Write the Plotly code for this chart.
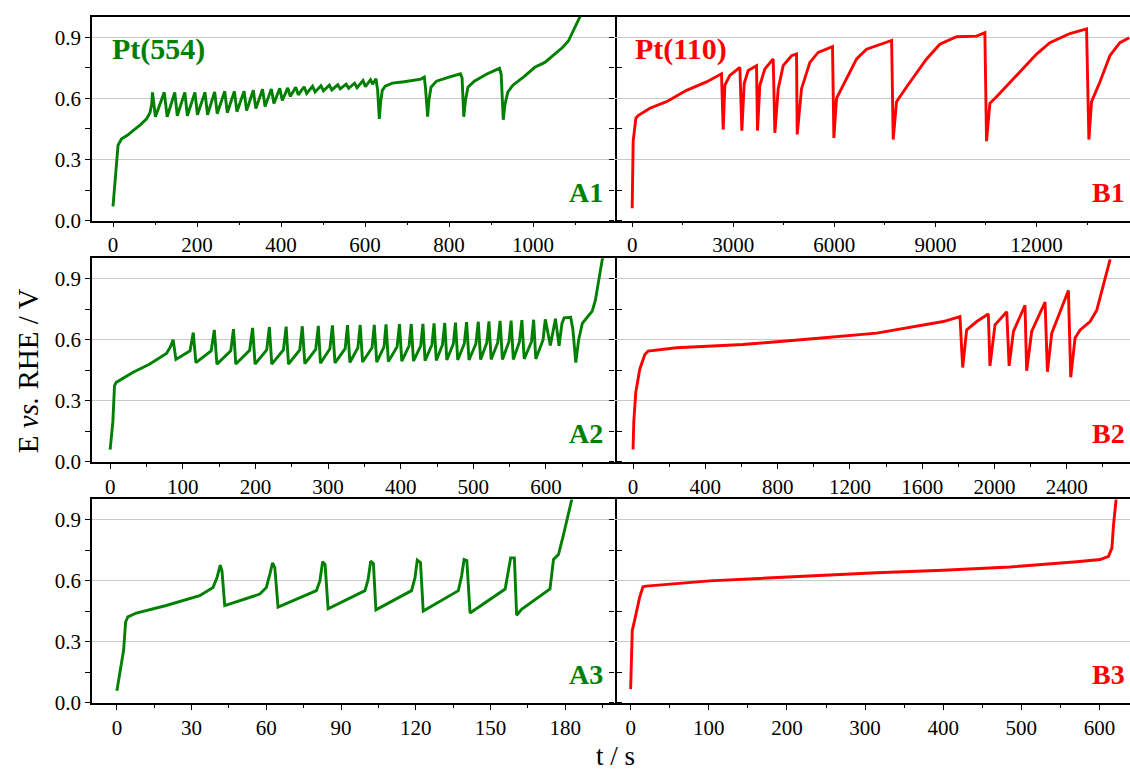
import plotly.graph_objects as go

# ---------------- data ----------------
a1_t = [0, 3, 8, 12, 20, 35, 50, 65, 80, 88, 92, 94,
        101, 122, 129, 147, 153, 171, 177, 195, 201, 219, 225, 242, 248, 266, 272, 289, 295,
        312, 318, 334, 340, 356, 362, 377, 383, 397, 403, 416, 422, 435, 441, 455, 461,
        475, 481, 495, 501, 515, 521, 535, 541, 555, 561, 575, 581, 595, 601, 613, 618, 626,
        630, 634, 637, 641, 648, 665, 693, 733, 741, 744, 749, 752, 757, 770, 800, 827, 831,
        835, 839, 845, 860, 890, 920, 924, 929, 933, 940, 952, 980, 1004, 1028, 1052, 1070,
        1084, 1100, 1112]
a1_E = [0.07, 0.15, 0.30, 0.37, 0.40, 0.42, 0.445, 0.47, 0.50, 0.53, 0.57, 0.63,
        0.51, 0.63, 0.51, 0.63, 0.515, 0.63, 0.515, 0.63, 0.52, 0.63, 0.52, 0.632, 0.525, 0.635, 0.53, 0.635, 0.535,
        0.636, 0.54, 0.64, 0.55, 0.645, 0.56, 0.647, 0.575, 0.65, 0.59, 0.652, 0.61, 0.655, 0.618, 0.657, 0.625,
        0.66, 0.632, 0.662, 0.637, 0.665, 0.642, 0.667, 0.647, 0.67, 0.65, 0.675, 0.653, 0.688, 0.658, 0.692, 0.67, 0.697,
        0.64, 0.50, 0.58, 0.64, 0.66, 0.675, 0.682, 0.695, 0.705, 0.65, 0.51, 0.59, 0.655, 0.685, 0.705, 0.721, 0.70,
        0.51, 0.59, 0.655, 0.685, 0.72, 0.748, 0.72, 0.495, 0.57, 0.632, 0.665, 0.71, 0.753, 0.777, 0.818, 0.85,
        0.882, 0.955, 1.003]

b1_t = [0, 30, 109, 178, 524, 1019, 1613, 2206, 2651, 2701, 2751, 2899, 3196, 3255, 3324, 3443,
        3690, 3720, 3789, 3938, 4185, 4235, 4334, 4482, 4729, 4878, 4898, 5026, 5274, 5521, 5946,
        5986, 6065, 6263, 6659, 6956, 7648, 7700, 7747, 7846, 8143, 8737, 9132, 9627, 10221, 10468,
        10517, 10616, 10814, 11408, 12002, 12397, 12991, 13486, 13555, 13634, 13882, 14178, 14475, 14752]
b1_E = [0.06, 0.39, 0.503, 0.516, 0.552, 0.584, 0.64, 0.681, 0.721, 0.447, 0.665, 0.713, 0.753, 0.442, 0.673, 0.737,
        0.761, 0.442, 0.665, 0.745, 0.794, 0.431, 0.648, 0.761, 0.81, 0.818, 0.423, 0.648, 0.777, 0.826, 0.855,
        0.406, 0.60, 0.665, 0.794, 0.842, 0.882, 0.885, 0.398, 0.584, 0.656, 0.794, 0.866, 0.903, 0.906, 0.923,
        0.39, 0.576, 0.608, 0.713, 0.818, 0.874, 0.919, 0.942, 0.398, 0.584, 0.681, 0.81, 0.874, 0.898]

a2_t = [0, 3.7, 6, 8.3, 31, 54, 77.5, 83, 86.7,
        90.5, 110, 114.4, 118, 139, 143.4, 147, 166, 169.8, 173, 192, 196.1, 199.5, 215.5, 219.2,
        222.5, 238.5, 242.3, 245.5, 261, 264.5, 268, 283, 286.6, 289.5, 302.5, 306, 309.5, 323.5, 326.8,
        330, 341, 344.2, 347.5, 360.5, 363.6, 367, 377, 379.8, 383, 395, 398.3, 401.5, 411.5, 414.5,
        417.5, 427.5, 430.6, 433.5, 443, 445.9, 449, 457.5, 460.6, 463.5, 472.5, 475.4, 478.5, 487.5, 490.7,
        494, 503.5, 506.8, 510, 518.5, 521.5, 524.5, 533.5, 536.8, 540, 549, 552, 555, 563.5, 566.8,
        570, 580, 583, 586, 596, 599, 606, 611, 613, 618, 622, 625, 634, 637, 641, 645, 650, 659, 663.7,
        668, 677.5, 680]
a2_E = [0.06, 0.197, 0.374, 0.39, 0.439, 0.479, 0.532, 0.565, 0.60,
        0.503, 0.545, 0.635, 0.487, 0.545, 0.648, 0.48, 0.545, 0.652, 0.48, 0.548, 0.658, 0.48, 0.55, 0.662,
        0.48, 0.55, 0.664, 0.48, 0.55, 0.666, 0.482, 0.552, 0.668, 0.484, 0.555, 0.670, 0.486, 0.556, 0.671,
        0.488, 0.56, 0.672, 0.49, 0.56, 0.673, 0.49, 0.565, 0.675, 0.492, 0.565, 0.676, 0.494, 0.57, 0.677,
        0.495, 0.57, 0.678, 0.497, 0.575, 0.68, 0.498, 0.575, 0.682, 0.5, 0.58, 0.684, 0.5, 0.58, 0.686,
        0.5, 0.58, 0.688, 0.502, 0.585, 0.69, 0.503, 0.585, 0.692, 0.503, 0.59, 0.694, 0.503, 0.59, 0.696,
        0.505, 0.59, 0.698, 0.505, 0.60, 0.70, 0.572, 0.66, 0.703, 0.57, 0.68, 0.707, 0.71, 0.65, 0.487, 0.60, 0.68, 0.72, 0.74,
        0.794, 0.995, 1.02]

b2_t = [0, 4, 15, 37, 65, 83, 240, 609, 978, 1348, 1717, 1809, 1824, 1846, 1902, 1966, 1975, 2003,
        2068, 2081, 2105, 2169, 2178, 2206, 2280, 2293, 2317, 2409, 2422, 2446, 2474, 2529, 2566, 2603, 2640]
b2_E = [0.06, 0.197, 0.342, 0.455, 0.527, 0.544, 0.56, 0.576, 0.603, 0.632, 0.689, 0.713, 0.463, 0.648,
        0.689, 0.726, 0.471, 0.673, 0.737, 0.471, 0.64, 0.769, 0.447, 0.64, 0.785, 0.442, 0.632, 0.842,
        0.415, 0.608, 0.648, 0.689, 0.745, 0.866, 0.995]

a3_t = [0, 1.7, 2.7, 3.5, 4.4, 7.8, 19.8, 33.2, 38.6, 40.2, 41.5, 42.2, 43.3,
        57.4, 60, 61.4, 62.5, 63.4, 64.7, 80.1, 81.5, 82.6, 83.6, 84.8,
        99.6, 100.9, 101.9, 103, 104, 118.3, 119.7, 120.6, 121.9, 123,
        137.1, 138.4, 139.4, 140.5, 141.8, 155.9, 157.2, 158.1, 159.6, 160.5, 162.5,
        173.9, 175.3, 177.3, 179.3, 181.3, 182.7]
a3_E = [0.06, 0.18, 0.26, 0.398, 0.423, 0.442, 0.479, 0.527, 0.568, 0.616, 0.677, 0.648, 0.479,
        0.535, 0.568, 0.632, 0.689, 0.665, 0.471, 0.552, 0.60, 0.694, 0.68, 0.463,
        0.552, 0.608, 0.697, 0.685, 0.458, 0.552, 0.616, 0.702, 0.69, 0.452,
        0.552, 0.624, 0.705, 0.70, 0.442, 0.56, 0.648, 0.713, 0.713, 0.431, 0.46,
        0.56, 0.705, 0.729, 0.826, 0.939, 1.003]

b3_t = [0, 2.1, 5.1, 11.5, 15.8, 20, 101, 199.4, 314.7, 400, 485.5, 571, 600.8, 611.5, 615.8, 617.9, 621.3]
b3_E = [0.068, 0.358, 0.406, 0.519, 0.571, 0.574, 0.60, 0.619, 0.640, 0.652, 0.668, 0.694, 0.705, 0.721,
        0.761, 0.874, 1.003]

x_ranges = [[-50, 1195], [-510, 14775], [-25, 695], [-100, 2750], [-10, 200], [-20, 639]]
x_dticks = [200, 3000, 100, 400, 30, 100]
panel_names = ["A1", "B1", "A2", "B2", "A3", "B3"]
crystal_names = ["Pt(554)", "Pt(110)"]

GREEN = "#008000"
RED = "#ff0000"
FONT = "Liberation Serif, Times New Roman, serif"

W, H = 1130, 778
col_px = [(92, 615), (615, 1130)]
row_px = [(17.3, 224), (262.3, 469), (507.3, 714)]

series = [(a1_t, a1_E), (b1_t, b1_E), (a2_t, a2_E), (b2_t, b2_E), (a3_t, a3_E), (b3_t, b3_E)]

fig = go.Figure()
layout = dict(width=W, height=H, margin=dict(l=0, r=0, t=0, b=0),
              paper_bgcolor="white", plot_bgcolor="white", showlegend=False,
              font=dict(family=FONT, size=21, color="black"))
annotations = []

for i, (t, e) in enumerate(series):
    row, col = divmod(i, 2)
    color = GREEN if col == 0 else RED
    suffix = "" if i == 0 else str(i + 1)
    fig.add_trace(go.Scatter(x=t, y=e, mode="lines", xaxis="x" + suffix, yaxis="y" + suffix,
                             line=dict(color=color, width=2.9), hoverinfo="skip"))
    x0, x1 = col_px[col]
    y0, y1 = row_px[row]
    layout["xaxis" + suffix] = dict(
        domain=[x0 / W, x1 / W], anchor="y" + suffix, range=x_ranges[i],
        tickmode="linear", tick0=0, dtick=x_dticks[i], tickformat="d",
        ticks="outside", ticklen=5, tickwidth=1.2, tickcolor="black",
        minor=dict(dtick=x_dticks[i] / 2, tick0=0, ticks="outside", ticklen=3, tickwidth=1, tickcolor="black"),
        showline=True, linecolor="black", linewidth=1.5, mirror=True,
        showgrid=False, zeroline=False, tickfont=dict(family=FONT, size=21, color="black"))
    layout["yaxis" + suffix] = dict(
        domain=[1 - y1 / H, 1 - y0 / H], anchor="x" + suffix, range=[0, 1.0],
        tickmode="linear", tick0=0, dtick=0.3, tickformat=".1f",
        ticks="outside", ticklen=5, tickwidth=1.2, tickcolor="black",
        minor=dict(dtick=0.15, tick0=0, ticks="outside", ticklen=5, tickwidth=1, tickcolor="black"),
        showline=(col == 0), linecolor="black", linewidth=1.5,
        mirror="ticks" if col == 0 else False,
        showticklabels=(col == 0),
        showgrid=True, gridcolor="#c8c8c8", gridwidth=1, zeroline=False,
        tickfont=dict(family=FONT, size=21, color="black"))
    xr = "x" + suffix + " domain"
    yr = "y" + suffix + " domain"
    annotations.append(dict(text="<b>" + panel_names[i] + "</b>", xref=xr, yref=yr,
                            x=0.981 if col == 0 else 0.994, y=0.14, xanchor="right", yanchor="middle",
                            showarrow=False, font=dict(family=FONT, size=28, color=color)))
    if row == 0:
        annotations.append(dict(text="<b>" + crystal_names[col] + "</b>", xref=xr, yref=yr,
                                x=0.034, y=0.844, xanchor="left", yanchor="middle",
                                showarrow=False, font=dict(family=FONT, size=30, color=color)))

annotations.append(dict(text="E <i>vs.</i> RHE / V", xref="paper", yref="paper", x=28 / W, y=1 - 377 / H,
                        xanchor="center", yanchor="middle", textangle=-90, showarrow=False,
                        font=dict(family=FONT, size=29, color="black")))
annotations.append(dict(text="t / s", xref="paper", yref="paper", x=615 / W, y=1 - 768 / H,
                        xanchor="center", yanchor="middle", showarrow=False,
                        font=dict(family=FONT, size=27, color="black")))
layout["annotations"] = annotations
fig.update_layout(**layout)
fig.write_html("out.html")
